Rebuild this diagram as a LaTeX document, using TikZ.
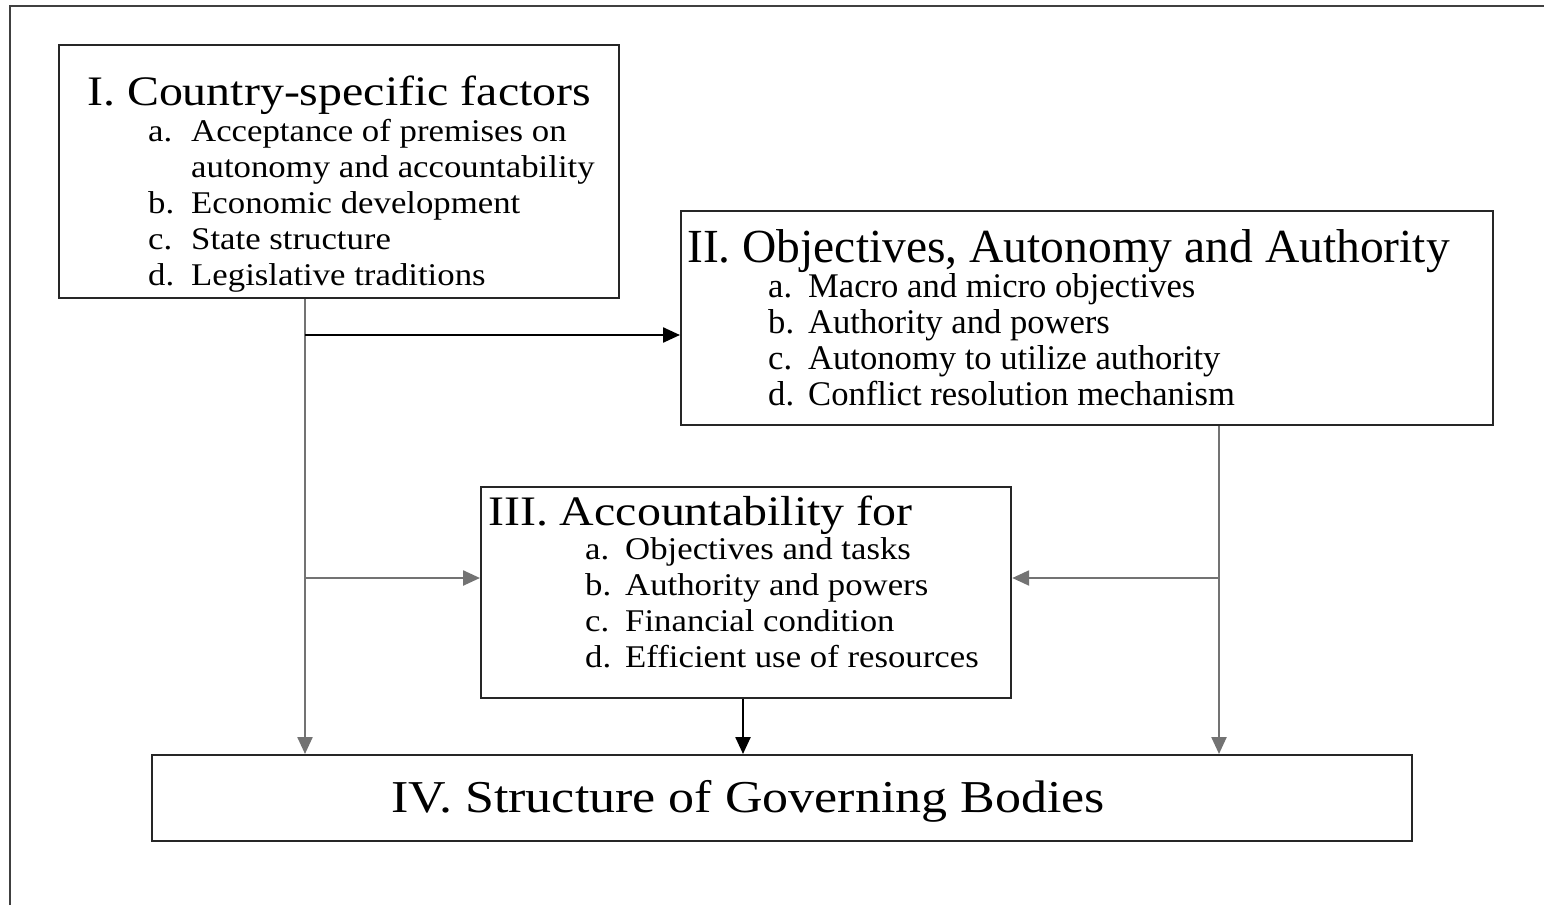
\documentclass[tikz,border=0pt]{standalone}
\usepackage{fontspec}
\setmainfont{Liberation Serif}
\newfontfamily\hfont{Liberation Serif}[FakeStretch=1.14]
\newfontfamily\ifont{Liberation Serif}[FakeStretch=1.1]
\usetikzlibrary{arrows.meta}
\tikzset{
  box/.style={draw=black!85, line width=2.2pt, anchor=north west, inner sep=0pt},
  head/.style={anchor=base west, inner sep=0pt, font=\hfont\fontsize{42}{42}\selectfont},
  narrowhead/.style={anchor=base west, inner sep=0pt, font=\fontsize{47.5}{48}\selectfont},
  bighead/.style={anchor=base, inner sep=0pt, font=\hfont\fontsize{45.6}{46}\selectfont},
  item/.style={anchor=base west, inner sep=0pt, font=\ifont\fontsize{31.6}{36}\selectfont},
  narrowitem/.style={anchor=base west, inner sep=0pt, font=\fontsize{34.6}{36}\selectfont},
  conn/.style={line width=2.4pt, -{Triangle[length=17pt,width=15pt]}},
  frameline/.style={draw=black!75, line width=2.5pt}
}
\begin{document}
\begin{tikzpicture}[x=1pt,y=-1pt]
\useasboundingbox (0,0) rectangle (1544,905);
% outer frame (top and left only)
\draw[frameline] (10,905) -- (10,6) -- (1544,6);

% boxes
\node[box, minimum width=560pt, minimum height=253pt] (I) at (58,44) {};
\node[box, minimum width=812pt, minimum height=214pt] (II) at (680,210) {};
\node[box, minimum width=530pt, minimum height=211pt] (III) at (480,486) {};
\node[box, minimum width=1260pt, minimum height=86pt] (IV) at (151,754) {};

% box I text
\node[head] (Ih) at (87,105) {I. Country-specific factors};
\node[item] (Ia) at (148,141) {a.};
\node[item] (Iat) at (191,141) {Acceptance of premises on};
\node[item] (Iat2) at (191,177) {autonomy and accountability};
\node[item] (Ib) at (148,213) {b.};
\node[item] (Ibt) at (191,213) {Economic development};
\node[item] (Ic) at (148,249) {c.};
\node[item] (Ict) at (191,249) {State structure};
\node[item] (Id) at (148,285) {d.};
\node[item] (Idt) at (191,285) {Legislative traditions};

% box II text
\node[narrowhead] (IIh) at (687,262) {II. Objectives, Autonomy and Authority};
\node[narrowitem] (IIa) at (768,297) {a.};
\node[narrowitem] (IIat) at (808,297) {Macro and micro objectives};
\node[narrowitem] (IIb) at (768,333) {b.};
\node[narrowitem] (IIbt) at (808,333) {Authority and powers};
\node[narrowitem] (IIc) at (768,369) {c.};
\node[narrowitem] (IIct) at (808,369) {Autonomy to utilize authority};
\node[narrowitem] (IId) at (768,405) {d.};
\node[narrowitem] (IIdt) at (808,405) {Conflict resolution mechanism};

% box III text
\node[head] (IIIh) at (488,525) {III. Accountability for};
\node[item] (IIIa) at (585,559) {a.};
\node[item] (IIIat) at (625,559) {Objectives and tasks};
\node[item] (IIIb) at (585,595) {b.};
\node[item] (IIIbt) at (625,595) {Authority and powers};
\node[item] (IIIc) at (585,631) {c.};
\node[item] (IIIct) at (625,631) {Financial condition};
\node[item] (IIId) at (585,667) {d.};
\node[item] (IIIdt) at (625,667) {Efficient use of resources};

% box IV text
\node[bighead] (IVh) at (748,812) {IV. Structure of Governing Bodies};

% junction coordinates
\coordinate (jL1) at (305,335);
\coordinate (jL2) at (305,578);
\coordinate (jR) at (1219,578);
\coordinate (jM) at (743,700);

% connectors
\draw[conn, draw=black!55, fill=black] (I.south -| jL1) -- (IV.north -| jL1);
\draw[conn, draw=black] (jL1) -- (II.west |- jL1);
\draw[conn, draw=black!55] (jL2) -- (III.west |- jL2);
\draw[conn, draw=black!55] (II.south -| jR) -- (IV.north -| jR);
\draw[conn, draw=black!55] (jR) -- (III.east |- jR);
\draw[conn, draw=black] (III.south -| jM) -- (IV.north -| jM);
\end{tikzpicture}
\end{document}
